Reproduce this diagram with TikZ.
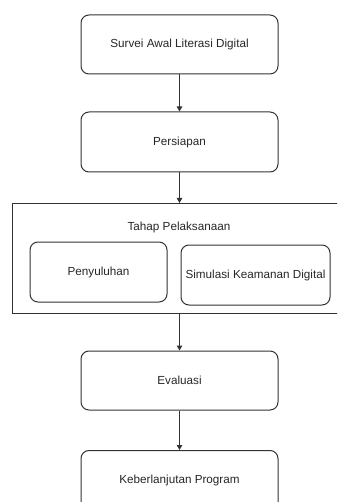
\documentclass[tikz,border=0pt]{standalone}
\usepackage{fontspec}
\setmainfont{Liberation Sans}
\usetikzlibrary{arrows.meta}
\begin{document}
\begin{tikzpicture}[x=1pt,y=-1pt,
  stepbox/.style={draw=black!80, line width=1pt, rounded corners=8pt},
  plainbox/.style={draw=black!80, line width=1pt},
  lbl/.style={font=\fontsize{11.7}{13}\selectfont, text=black!85},
  conn/.style={draw=black!80, line width=1pt, -{Triangle[length=5pt,width=5.5pt]}}]
\useasboundingbox (0,0) rectangle (337,502);
\clip (0,0) rectangle (337,502);
\node[stepbox, minimum width=197pt, minimum height=59pt, lbl] (s1) at (179.5,44.5) {Survei Awal Literasi Digital};
\node[stepbox, minimum width=197pt, minimum height=60pt, lbl] (s2) at (179.5,142) {Persiapan};
\node[plainbox, minimum width=340pt, minimum height=110pt, anchor=north west, inner sep=0pt] (s3) at (12,203) {};
\node[lbl] (t3) at (179,227) {Tahap Pelaksanaan};
\node[stepbox, minimum width=137pt, minimum height=60pt, lbl] (p1) at (98.5,272) {Penyuluhan};
\node[stepbox, minimum width=149pt, minimum height=60pt, lbl, inner sep=0.5pt] (p2) at (255.5,275) {Simulasi Keamanan Digital};
\node[stepbox, minimum width=197pt, minimum height=59pt, lbl] (s4) at (179.5,380.5) {Evaluasi};
\node[stepbox, minimum width=197pt, minimum height=60pt, anchor=north, lbl, text depth=0pt] (s5) at (179.5,450) {};
\node[lbl] (t5) at (179.5,480) {Keberlanjutan Program};
\coordinate (c3top) at (179.5,203);
\coordinate (c3bot) at (179.5,313);
\draw[conn] (s1.south) -- (s2.north);
\draw[conn] (s2.south) -- (c3top);
\draw[conn] (c3bot) -- (s4.north);
\draw[conn] (s4.south) -- (s5.north);
\end{tikzpicture}
\end{document}
